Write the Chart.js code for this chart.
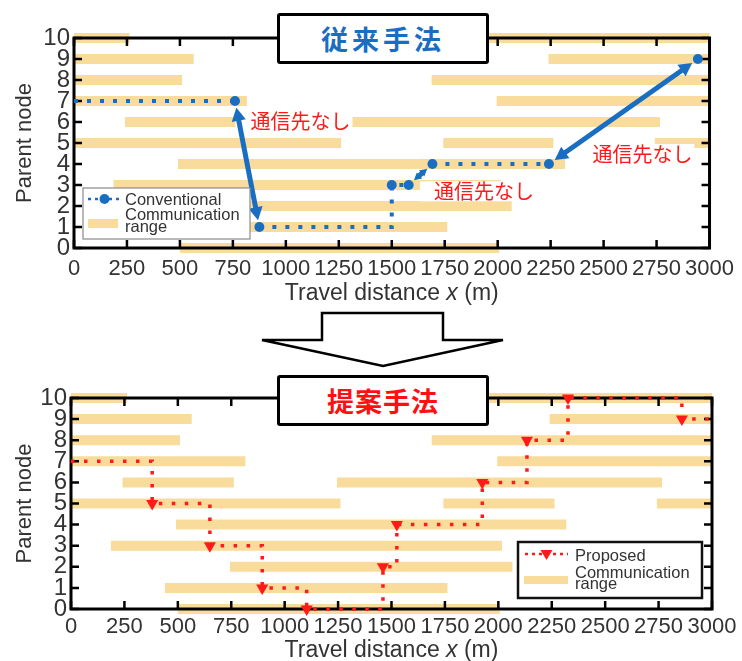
<!DOCTYPE html>
<html>
<head>
<meta charset="utf-8">
<script src="https://cdn.jsdelivr.net/npm/chart.js@4.4.1/dist/chart.umd.min.js"></script>
<style>
  body { margin: 0; width: 742px; height: 661px; position: relative; overflow: hidden; background: #fff; }
  canvas { position: absolute; left: 0; }
  #topChart { top: 0; }
  #bottomChart { top: 330px; }
  .method {
    position: absolute; left: 277px; width: 206px; height: 45px;
    border: 3.5px solid #000; border-radius: 3px; background: #fff;
    font: bold 27px "Noto Sans CJK JP", sans-serif; text-align: center; line-height: 45px;
  }
  #convTitle { top: 13px; color: #1a6ec2; letter-spacing: 4px; }
  #propTitle { top: 375px; color: #ff1010; letter-spacing: 1px; }
  #bigArrow { position: absolute; left: 0; top: 0; }
</style>
</head>
<body>
<canvas id="topChart" width="742" height="310"></canvas>
<canvas id="bottomChart" width="742" height="340"></canvas>
<svg id="bigArrow" width="742" height="661">
  <polygon points="322,313 443,313 443,340 503,340 383,366 262,340 322,340"
           fill="#fff" stroke="#000" stroke-width="2.5" stroke-linejoin="miter"/>
</svg>
<div class="method" id="convTitle">従来手法</div>
<div class="method" id="propTitle">提案手法</div>

<script>
// axis ticks
const xTicks = [0, 250, 500, 750, 1000, 1250, 1500, 1750, 2000, 2250, 2500, 2750, 3000];
const yTicks = [0, 1, 2, 3, 4, 5, 6, 7, 8, 9, 10];

// communication range of each parent node (same in both panels)
const rangeNode  = [10, 10, 9, 9, 8, 8, 7, 7, 6, 6, 5, 5, 5, 4, 3, 2, 1, 0];
const rangeStart = [0, 1900, 0, 2240, 0, 1688, 0, 1995, 241, 1245, 0, 1743, 2742, 491, 187, 744, 440, 500];
const rangeEnd   = [262, 3000, 565, 3000, 510, 3000, 816, 3000, 762, 2766, 1261, 2263, 3000, 2318, 2017, 2066, 1762, 2007];

// conventional: null = break, the jump is shown by an arrow
const convX    = [0, 760, null, 875, 1500, 1500, 1580, null, 1692, 2242, null, 2945];
const convY    = [7, 7, null, 1, 1, 3, 3, null, 4, 4, null, 9];
const convMark = [0, 1, 0, 1, 0, 1, 1, 0, 1, 1, 0, 1];
const convJumps = [[760, 7, 875, 1], [1580, 3, 1692, 4], [2242, 4, 2945, 9]];
const noteX = [833, 1699, 2447];
const noteY = [6.05, 2.7, 4.48];
const noteText = '通信先なし';

// proposed
const propX    = [0, 380, 380, 650, 650, 895, 895, 1103, 1103, 1460, 1460, 1525, 1525, 1925, 1925, 2134, 2134, 2326, 2326, 2859, 2859, 3000];
const propY    = [7, 7, 5, 5, 3, 3, 1, 1, 0, 0, 2, 2, 4, 4, 6, 6, 8, 8, 10, 10, 9, 9];
const propMark = [0, 0, 1, 0, 1, 0, 1, 0, 1, 0, 1, 0, 1, 0, 1, 0, 1, 0, 1, 0, 1, 0];

const RANGE = 'rgb(249,220,156)';
const BLUE = '#1a6ec2';
const RED = '#ff1a1a';
const INK = '#333';
const FONT = '"Liberation Sans", Arial, sans-serif';

Chart.defaults.font.family = FONT;

const rangePts = [];
rangeNode.forEach((n, i) => {
  rangePts.push({ x: rangeStart[i], y: n }, { x: rangeEnd[i], y: n }, { x: rangeEnd[i], y: null });
});

function arrow(ctx, x1, y1, x2, y2, color) {
  const len = Math.hypot(x2 - x1, y2 - y1);
  const s = 7, e = len - 7;
  const h = Math.min(13, (e - s) * 0.42), w = h * 0.55;
  ctx.save();
  ctx.translate(x1, y1);
  ctx.rotate(Math.atan2(y2 - y1, x2 - x1));
  ctx.fillStyle = ctx.strokeStyle = color;
  ctx.lineWidth = 5;
  ctx.beginPath(); ctx.moveTo(s + h - 1, 0); ctx.lineTo(e - h + 1, 0); ctx.stroke();
  ctx.beginPath(); ctx.moveTo(s, 0); ctx.lineTo(s + h, -w); ctx.lineTo(s + h, w); ctx.closePath(); ctx.fill();
  ctx.beginPath(); ctx.moveTo(e, 0); ctx.lineTo(e - h, -w); ctx.lineTo(e - h, w); ctx.closePath(); ctx.fill();
  ctx.restore();
}

function marker(ctx, style, x, y, color) {
  ctx.fillStyle = color;
  ctx.beginPath();
  if (style === 'circle') {
    ctx.arc(x, y, 5, 0, Math.PI * 2);
  } else {
    ctx.moveTo(x - 6, y - 4); ctx.lineTo(x + 6, y - 4); ctx.lineTo(x, y + 6); ctx.closePath();
  }
  ctx.fill();
}

function drawLegend(ctx, L) {
  ctx.fillStyle = '#fff';
  ctx.fillRect(...L.box);
  ctx.lineWidth = L.edgeWidth;
  ctx.strokeStyle = L.edge;
  ctx.strokeRect(...L.box);
  ctx.strokeStyle = L.color;
  ctx.lineWidth = 2.5;
  ctx.setLineDash([3, 4]);
  ctx.beginPath(); ctx.moveTo(L.line[0], L.line[2]); ctx.lineTo(L.line[1], L.line[2]); ctx.stroke();
  ctx.setLineDash([]);
  marker(ctx, L.marker, (L.line[0] + L.line[1]) / 2, L.line[2], L.color);
  ctx.fillStyle = RANGE;
  ctx.fillRect(...L.swatch);
  ctx.fillStyle = INK;
  ctx.font = '16.5px ' + FONT;
  ctx.textBaseline = 'alphabetic';
  ctx.textAlign = 'left';
  L.texts.forEach(([t, x, y]) => ctx.fillText(t, x, y));
}

const deco = {
  id: 'deco',
  // frame goes over the ranges but under the path
  afterDatasetDraw(chart, args, o) {
    if (args.index !== 1) return;
    const { ctx, chartArea: a } = chart;
    const xs = chart.scales.x, ys = chart.scales.y;
    ctx.save();
    ctx.strokeStyle = '#000';
    ctx.lineWidth = 3;
    ctx.strokeRect(a.left, a.top, a.width, a.height);
    ctx.lineWidth = 2.5;
    ctx.beginPath();
    xTicks.forEach(v => {
      const p = xs.getPixelForValue(v);
      ctx.moveTo(p, a.bottom); ctx.lineTo(p, a.bottom - 8);
      ctx.moveTo(p, a.top); ctx.lineTo(p, a.top + 8);
    });
    yTicks.forEach(v => {
      const p = ys.getPixelForValue(v);
      ctx.moveTo(a.left, p); ctx.lineTo(a.left + 8, p);
      ctx.moveTo(a.right, p); ctx.lineTo(a.right - 8, p);
    });
    ctx.stroke();
    ctx.restore();
  },
  afterDatasetsDraw(chart, args, o) {
    const { ctx, chartArea: a } = chart;
    const xs = chart.scales.x, ys = chart.scales.y;
    const px = v => xs.getPixelForValue(v), py = v => ys.getPixelForValue(v);
    ctx.save();

    // 通信先なし notes on a white box
    ctx.font = '20px "Noto Sans CJK JP", sans-serif';
    ctx.textBaseline = 'middle';
    ctx.textAlign = 'left';
    (o.notesX || []).forEach((nx, i) => {
      const w = ctx.measureText(noteText).width;
      ctx.fillStyle = '#fff';
      ctx.fillRect(px(nx) - 14, py(o.notesY[i]) - 10, w + 16, 20);
      ctx.fillStyle = RED;
      ctx.fillText(noteText, px(nx), py(o.notesY[i]));
    });

    (o.jumps || []).forEach(([x1, y1, x2, y2]) => arrow(ctx, px(x1), py(y1), px(x2), py(y2), BLUE));

    // x title with italic x
    const parts = [['Travel distance ', ''], ['x', 'italic '], [' (m)', '']];
    let total = 0;
    parts.forEach(([t, s]) => { ctx.font = s + '23px ' + FONT; total += ctx.measureText(t).width; });
    let cx = (a.left + a.right) / 2 - total / 2;
    ctx.fillStyle = INK;
    ctx.textBaseline = 'alphabetic';
    parts.forEach(([t, s]) => {
      ctx.font = s + '23px ' + FONT;
      ctx.fillText(t, cx, a.bottom + o.titleGap);
      cx += ctx.measureText(t).width;
    });

    drawLegend(ctx, o.legend);
    ctx.restore();
  }
};

function makeChart(id, xv, yv, mark, look) {
  const pts = xv.map((v, i) => ({ x: v, y: yv[i] }));
  return new Chart(document.getElementById(id), {
    type: 'scatter',
    data: {
      datasets: [
        {
          data: pts, showLine: true, spanGaps: false,
          borderColor: look.color, borderWidth: look.lw, borderDash: look.dash,
          pointStyle: look.marker, pointRotation: look.rot,
          pointRadius: c => mark[c.dataIndex] ? look.r : 0,
          pointBackgroundColor: look.color, pointBorderColor: look.color, pointBorderWidth: 0,
          clip: false
        },
        {
          data: rangePts, showLine: true, spanGaps: false,
          borderColor: RANGE, borderWidth: 10, borderCapStyle: 'butt',
          pointRadius: 0, clip: false
        }
      ]
    },
    options: {
      responsive: false,
      animation: false,
      events: [],
      layout: { padding: { top: look.top, right: look.right, left: 0, bottom: 0 } },
      plugins: {
        legend: { display: false },
        tooltip: { enabled: false },
        deco: look.deco
      },
      scales: {
        x: {
          type: 'linear', min: 0, max: 3000,
          afterBuildTicks: s => { s.ticks = xTicks.map(v => ({ value: v })); },
          ticks: { autoSkip: false, maxRotation: 0, padding: look.xpad, color: INK, font: { size: 22 },
                   callback: v => String(v) },
          grid: { display: false, drawTicks: false },
          border: { display: false },
          afterFit: s => { s.height = look.xh; }
        },
        y: {
          type: 'linear', min: 0, max: 10,
          afterBuildTicks: s => { s.ticks = yTicks.map(v => ({ value: v })); },
          ticks: { autoSkip: false, padding: 4, color: INK, font: { size: 24 }, callback: v => String(v) },
          grid: { display: false, drawTicks: false },
          border: { display: false },
          title: { display: true, text: 'Parent node', color: INK, font: { size: 22 }, padding: { top: 12, bottom: 0 } },
          afterFit: s => { s.width = look.yw; }
        }
      }
    },
    plugins: [deco]
  });
}

makeChart('topChart', convX, convY, convMark, {
  color: BLUE, lw: 4, dash: [4, 9], marker: 'circle', rot: 0, r: 5,
  top: 38, right: 27, yw: 74, xh: 62, xpad: 8,
  deco: {
    jumps: convJumps, notesX: noteX, notesY: noteY, titleGap: 52,
    legend: {
      box: [83, 188, 167, 51], edge: '#8a8a8a', edgeWidth: 1.2, color: BLUE, marker: 'circle',
      line: [88, 121, 199], swatch: [88, 219, 30, 9],
      texts: [['Conventional', 125, 205], ['Communication', 125, 220], ['range', 125, 232]]
    }
  }
});

makeChart('bottomChart', propX, propY, propMark, {
  color: RED, lw: 3.5, dash: [3.5, 9.5], marker: 'triangle', rot: 180, r: 7,
  top: 68, right: 30, yw: 71, xh: 61, xpad: 5,
  deco: {
    titleGap: 48,
    legend: {
      box: [518, 212, 184, 56], edge: '#111', edgeWidth: 2.5, color: RED, marker: 'triangle',
      line: [525, 568, 224], swatch: [524, 246, 44, 8],
      texts: [['Proposed', 575, 231], ['Communication', 575, 248], ['range', 575, 259]]
    }
  }
});
</script>
</body>
</html>
